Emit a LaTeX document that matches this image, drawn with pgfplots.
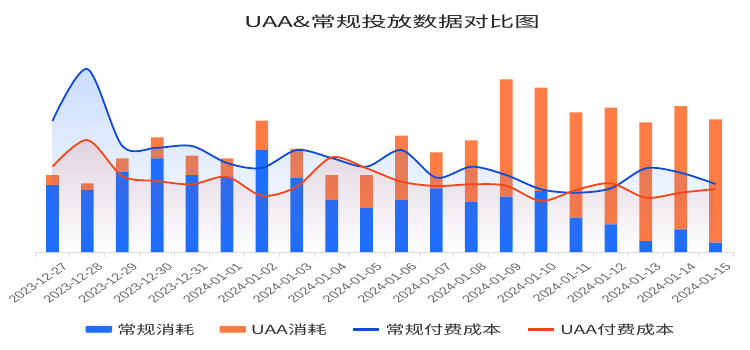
\documentclass[border=0pt]{standalone}
\usepackage{fontspec}
\usepackage{pgfplots}
\pgfplotsset{compat=1.18}
\usetikzlibrary{fadings}
\setmainfont{Noto Sans CJK SC}
\newfontfamily\titlefont{Noto Sans CJK SC}[FakeStretch=1.7]
\newfontfamily\legfont{Noto Sans CJK SC}[FakeStretch=1.55]
\newfontfamily\tickfont{Liberation Sans}
\definecolor{barblue}{HTML}{1E6FFF}
\definecolor{barorange}{HTML}{FF7D45}
\definecolor{lineblue}{HTML}{0F4BD7}
\definecolor{linered}{HTML}{F5461A}
\definecolor{axisgray}{HTML}{DCDCDC}
\definecolor{labelgray}{HTML}{666666}
\tikzfading[name=areafade, top color=transparent!0, bottom color=transparent!100]
\begin{document}
\begin{tikzpicture}
\path[use as bounding box] (-35pt,-97pt) rectangle (715pt,252pt);
\begin{axis}[
  at={(0pt,0pt)}, anchor=south west,
  scale only axis, width=698pt, height=200pt,
  xmin=-0.5, xmax=19.5, ymin=0, ymax=200,
  axis x line*=bottom, axis y line=none,
  x axis line style={draw=axisgray, line width=0.8pt},
  ytick=\empty,
  xtick={0,...,19},
  major tick length=0pt,
  minor xtick={-0.5,0.5,...,19.5},
  minor tick length=5pt,
  tick align=outside,
  minor tick style={draw=axisgray, line width=0.8pt},
  xticklabels={2023-12-27,2023-12-28,2023-12-29,2023-12-30,2023-12-31,2024-01-01,2024-01-02,2024-01-03,2024-01-04,2024-01-05,2024-01-06,2024-01-07,2024-01-08,2024-01-09,2024-01-10,2024-01-11,2024-01-12,2024-01-13,2024-01-14,2024-01-15},
  xticklabel style={xshift=9pt, yshift=-10pt, cm={1.0607,0.7071,-1.0607,0.7071,(0,0)}, anchor=north east, font=\tickfont\fontsize{10}{12}\selectfont, text=labelgray, inner sep=0pt},
  ybar stacked, bar width=12.7pt,
  clip=false,
]
\addplot[fill=barblue, draw=none] coordinates {
(0,67) (1,62) (2,80.3) (3,93.7) (4,77) (5,75.3) (6,102) (7,74.3) (8,52) (9,44)
(10,52) (11,63.7) (12,50.3) (13,55.3) (14,61) (15,34.3) (16,27.7) (17,11) (18,22.7) (19,9.3)};
\addplot[fill=barorange, draw=none] coordinates {
(0,10) (1,6.7) (2,13.4) (3,21) (4,19.3) (5,18.4) (6,29.3) (7,29) (8,25) (9,33)
(10,64.3) (11,36) (12,61.4) (13,117.4) (14,103.3) (15,105.4) (16,116.6) (17,118.7) (18,123.3) (19,123.4)};
\end{axis}
\begin{axis}[
  at={(0pt,0pt)}, anchor=south west,
  scale only axis, width=698pt, height=200pt,
  xmin=-0.5, xmax=19.5, ymin=0, ymax=200,
  hide axis, clip=false,
  legend columns=4,
  legend style={at={(0.498,-0.3875)}, anchor=center, draw=none, fill=none,
    font=\legfont\fontsize{12.5}{14}\selectfont, text=black!80,
    /tikz/every even column/.append style={column sep=20pt},
    /tikz/every odd column/.append style={column sep=0pt},
    nodes={inner xsep=5pt},
    inner sep=0pt},
]
\addplot[draw=none, fill=barblue, fill opacity=0.24, path fading=areafade, smooth, tension=0.5, forget plot] coordinates {
(0,131) (1,183) (2,106) (3,104.3) (4,106) (5,89) (6,84) (7,102) (8,94) (9,85.3)
(10,102) (11,74.3) (12,85.3) (13,77) (14,62.7) (15,59.3) (16,63.7) (17,83.7) (18,79.3) (19,68)} \closedcycle;
\addplot[draw=none, fill=linered, fill opacity=0.14, path fading=areafade, smooth, tension=0.5, forget plot] coordinates {
(0,85.3) (1,112) (2,76) (3,71) (4,67.7) (5,75.3) (6,56.3) (7,65.3) (8,94.7) (9,83.7)
(10,70.3) (11,66) (12,67.7) (13,66.3) (14,51) (15,62) (16,68.7) (17,54.3) (18,59.3) (19,63)} \closedcycle;
\addlegendimage{legend image code/.code={\fill[barblue, rounded corners=1pt] (0pt,-3pt) rectangle (26pt,3.5pt);}}
\addlegendentry{常规消耗}
\addlegendimage{legend image code/.code={\fill[barorange, rounded corners=1pt] (0pt,-3pt) rectangle (26pt,3.5pt);}}
\addlegendentry{UAA消耗}
\addplot[lineblue, line width=1.8pt, smooth, tension=0.5, mark=none,
  legend image code/.code={\draw[lineblue, line width=2.5pt] (0pt,0pt) -- (26pt,0pt);}] coordinates {
(0,131) (1,183) (2,106) (3,104.3) (4,106) (5,89) (6,84) (7,102) (8,94) (9,85.3)
(10,102) (11,74.3) (12,85.3) (13,77) (14,62.7) (15,59.3) (16,63.7) (17,83.7) (18,79.3) (19,68)};
\addlegendentry{常规付费成本}
\addplot[linered, line width=1.8pt, smooth, tension=0.5, mark=none,
  legend image code/.code={\draw[linered, line width=2.5pt] (0pt,0pt) -- (26pt,0pt);}] coordinates {
(0,85.3) (1,112) (2,76) (3,71) (4,67.7) (5,75.3) (6,56.3) (7,65.3) (8,94.7) (9,83.7)
(10,70.3) (11,66) (12,67.7) (13,66.3) (14,51) (15,62) (16,68.7) (17,54.3) (18,59.3) (19,63)};
\addlegendentry{UAA付费成本}
\end{axis}
\node[font=\titlefont\fontsize{15}{18}\selectfont, text=black!85] at (357pt,230pt) {UAA\&常规投放数据对比图};
\end{tikzpicture}
\end{document}
